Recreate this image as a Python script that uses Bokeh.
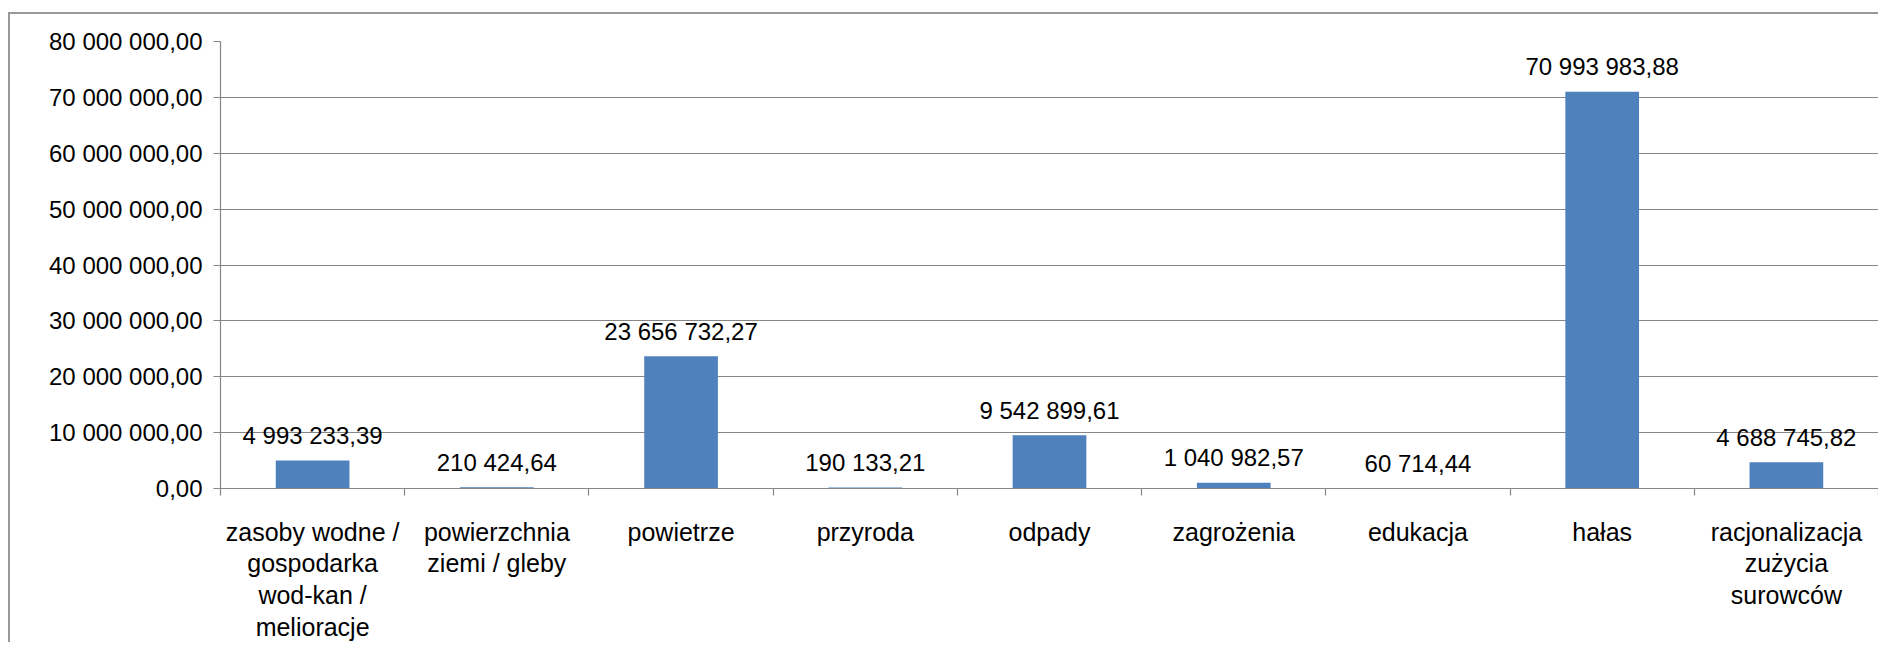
from bokeh.plotting import figure
from bokeh.models import Range1d, FixedTicker, ColumnDataSource
from bokeh.core.properties import value
from bokeh.embed import file_html
from bokeh.resources import INLINE

# ---- data ----
categories = [
    "zasoby wodne /\ngospodarka\nwod-kan /\nmelioracje",
    "powierzchnia\nziemi / gleby",
    "powietrze",
    "przyroda",
    "odpady",
    "zagrożenia",
    "edukacja",
    "hałas",
    "racjonalizacja\nzużycia\nsurowców",
]
amounts = [4993233.39, 210424.64, 23656732.27, 190133.21, 9542899.61,
           1040982.57, 60714.44, 70993983.88, 4688745.82]
y_ticks = [0, 10000000, 20000000, 30000000, 40000000, 50000000, 60000000, 70000000, 80000000]


def pl(v):
    s = f"{v:,.2f}"
    return s.replace(",", " ").replace(".", ",")


n = len(categories)
xs = [i + 0.5 for i in range(n)]
labels = [pl(v) for v in amounts]

FONT = "Liberation Sans"
GRID = "#868686"

p = figure(width=1870, height=630, output_backend="svg", toolbar_location=None,
           x_range=Range1d(0, n), y_range=Range1d(0, y_ticks[-1]),
           min_border_left=210, min_border_right=2, min_border_top=27, min_border_bottom=156)
p.margin = (12, 0, 0, 8)
p.styles = {"border-left": "2px solid #999999", "border-top": "2px solid #999999"}
p.outline_line_color = None
p.background_fill_color = "white"
p.border_fill_color = "white"

# grid
p.xgrid.grid_line_color = None
p.ygrid.grid_line_color = GRID
p.ygrid.grid_line_width = 1.2

# y axis
p.yaxis.ticker = FixedTicker(ticks=y_ticks)
p.yaxis.major_label_overrides = {t: pl(t) for t in y_ticks}
p.yaxis.axis_line_color = GRID
p.yaxis.axis_line_width = 1.2
p.yaxis.major_tick_line_color = GRID
p.yaxis.major_tick_line_width = 1.2
p.yaxis.major_tick_out = 7
p.yaxis.major_tick_in = 0
p.yaxis.minor_tick_line_color = None
p.yaxis.major_label_standoff = 11
p.yaxis.major_label_text_font = FONT
p.yaxis.major_label_text_font_size = "24px"
p.yaxis.major_label_text_color = "#000000"

# x axis
p.xaxis.ticker = FixedTicker(ticks=xs, minor_ticks=list(range(n + 1)))
p.xaxis.major_label_overrides = {x: c for x, c in zip(xs, categories)}
p.xaxis.axis_line_color = GRID
p.xaxis.axis_line_width = 1.2
p.xaxis.major_tick_line_color = None
p.xaxis.major_tick_out = 0
p.xaxis.major_tick_in = 0
p.xaxis.minor_tick_line_color = GRID
p.xaxis.minor_tick_line_width = 1.2
p.xaxis.minor_tick_out = 7
p.xaxis.minor_tick_in = 0
p.xaxis.major_label_standoff = 22
p.xaxis.major_label_text_font = FONT
p.xaxis.major_label_text_font_size = "25px"
p.xaxis.major_label_text_color = "#000000"
p.xaxis.major_label_text_line_height = 1.14

src = ColumnDataSource(dict(x=xs, top=amounts, label=labels))
p.vbar(x="x", top="top", bottom=0, width=0.40, source=src,
       fill_color="#4F81BD", line_color=None)
p.text(x="x", y="top", text="label", source=src, y_offset=-25,
       text_align="center", text_baseline="middle",
       text_font=value(FONT), text_font_size="24px", text_color="#000000")

open("out.html", "w").write(file_html(p, INLINE))
